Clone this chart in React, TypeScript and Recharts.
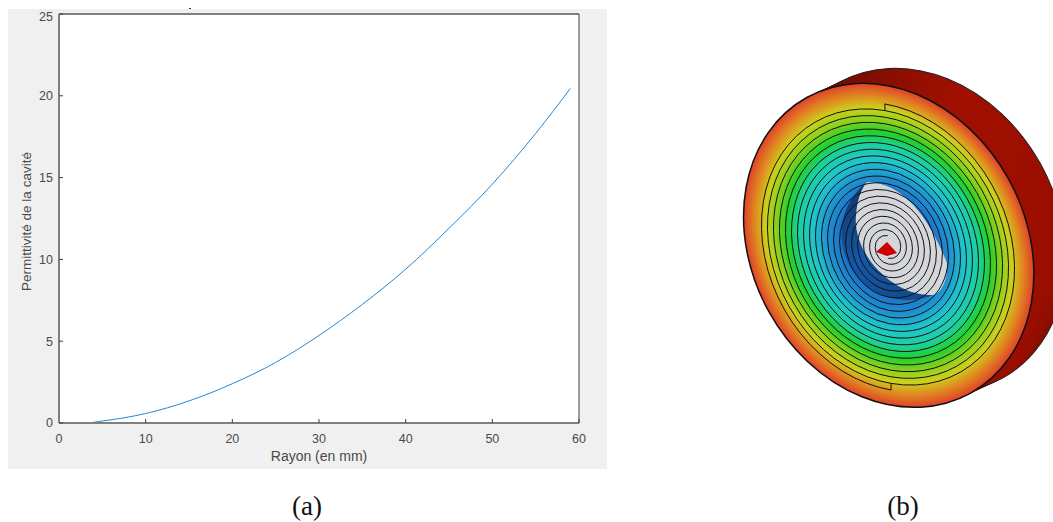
import React from 'react';
import { LineChart, Line, XAxis, YAxis, CartesianGrid, Label } from 'recharts';

const radius = [0, 3, 5, 10, 15, 20, 25, 30, 35, 40, 45, 50, 55, 59];
const permittivity = [0, 0, 0.12, 0.58, 1.35, 2.4, 3.7, 5.35, 7.25, 9.4, 11.9, 14.6, 17.7, 20.45];
const xTicks = [0, 10, 20, 30, 40, 50, 60];
const yTicks = [0, 5, 10, 15, 20, 25];

const chartData = radius.map((r, i) => ({ r, eps: permittivity[i] }));

// disk illustration (b)
const faceStops: [number, string][] = [
  [0, '#1a5cb0'],
  [30, '#1b6cc4'],
  [42, '#1f8fd0'],
  [52, '#1fc4cc'],
  [62, '#1cd0a0'],
  [70, '#22d02c'],
  [78, '#90d01c'],
  [85, '#ccd01c'],
  [92, '#e08a20'],
  [100, '#e0402a'],
];
const spiralRadii = [151, 144, 137, 130, 123, 116, 109, 102, 95, 88, 81, 74, 67, 60, 53, 46, 39, 32, 25, 18, 12];
const bodyOffsets = [0, 2, 4, 6, 8, 10, 12, 14, 16, 18, 20, 22, 24, 26, 28, 30, 32];

function spiralPath() {
  let d = `M0 ${-spiralRadii[0]}`;
  spiralRadii.slice(1).forEach((r, i) => {
    const prev = spiralRadii[i];
    const arc = (prev + r) / 2;
    const sign = i % 2 === 0 ? 1 : -1;
    d += ` A${arc} ${arc} 0 0 1 0 ${sign * r}`;
  });
  return d;
}

function Disk() {
  const spiral = spiralPath();
  return (
    <svg width={1053} height={522} style={{ position: 'absolute', left: 0, top: 0 }}>
      <defs>
        <radialGradient id="faceFill">
          {faceStops.map(([o, c]) => (
            <stop key={o} offset={`${o}%`} stopColor={c} />
          ))}
        </radialGradient>
        <linearGradient id="sideFill" gradientUnits="userSpaceOnUse" x1="800" y1="70" x2="1050" y2="380">
          <stop offset="0%" stopColor="#5e0c00" />
          <stop offset="45%" stopColor="#a01000" />
          <stop offset="85%" stopColor="#9a0e00" />
          <stop offset="100%" stopColor="#5e0c00" />
        </linearGradient>
        <linearGradient id="holeFill" gradientUnits="userSpaceOnUse" x1="850" y1="190" x2="900" y2="305">
          <stop offset="0%" stopColor="#10396f" />
          <stop offset="55%" stopColor="#1558a8" />
          <stop offset="100%" stopColor="#134a8c" />
        </linearGradient>
      </defs>
      {bodyOffsets.map((o) => (
        <ellipse
          key={o}
          cx={888.7 + o}
          cy={245.3 - o * 0.47}
          rx={137}
          ry={169}
          transform={`rotate(-29 ${888.7 + o} ${245.3 - o * 0.47})`}
          fill="url(#sideFill)"
          stroke={o === 32 ? '#222' : 'none'}
          strokeWidth={1}
        />
      ))}
      <ellipse
        cx={888.7}
        cy={245.3}
        rx={137}
        ry={169}
        transform="rotate(-29 888.7 245.3)"
        fill="url(#faceFill)"
        stroke="#111"
        strokeWidth={1.5}
      />
      <path d="M867 182 A66 66 0 0 0 933 295 Z" fill="url(#holeFill)" />
      <path
        d="M867 182 C905 183 930 220 947 263 C948 280 942 292 933 295 C895 297 852 255 856 215 C857 200 862 187 867 182 Z"
        fill="#d4d6da"
      />
      <g transform="translate(888 247) rotate(-29) scale(0.81 1) rotate(33)" fill="none" stroke="#111" strokeWidth={1}>
        <path d={spiral} vectorEffect="non-scaling-stroke" />
        <path d={spiral} vectorEffect="non-scaling-stroke" transform="rotate(180)" />
        <path d={`M0 ${-spiralRadii[0]} V${-spiralRadii[1]}`} vectorEffect="non-scaling-stroke" />
        <path d={`M0 ${spiralRadii[0]} V${spiralRadii[1]}`} vectorEffect="non-scaling-stroke" />
      </g>
      <path d="M876 252 L887 242 L897 253 L887 256 Z" fill="#cc0000" />
      <rect x={189} y={8} width={2} height={1} fill="#333" />
      <text x={307} y={515} textAnchor="middle" fontFamily="Liberation Serif" fontSize={27} fill="#111">
        (a)
      </text>
      <text x={903} y={515} textAnchor="middle" fontFamily="Liberation Serif" fontSize={27} fill="#111">
        (b)
      </text>
    </svg>
  );
}

const tickStyle = { fontSize: 12.5, fill: '#4a4a4a', fontFamily: 'Liberation Sans' };

export default function App() {
  return (
    <div style={{ position: 'absolute', left: 0, top: 0, width: 1053, height: 522, overflow: 'hidden', background: '#fff' }}>
      <div style={{ position: 'absolute', left: 8, top: 9, width: 599, height: 460, background: '#f0f0f0' }}>
        <LineChart
          width={599}
          height={460}
          data={chartData}
          margin={{ top: 4, right: 27, bottom: 45, left: 50 }}
        >
          <CartesianGrid horizontal={false} vertical={false} fill="#ffffff" />
          <XAxis
            xAxisId="bottom"
            dataKey="r"
            type="number"
            domain={[0, 60]}
            ticks={xTicks}
            height={1}
            tickSize={-4}
            tickMargin={15}
            tick={tickStyle}
            stroke="#808080"
            tickLine={{ stroke: '#404040' }}
            axisLine={{ stroke: '#808080', strokeWidth: 2 }}
          >
            <Label value="Rayon (en mm)" position="bottom" offset={27} style={{ ...tickStyle, fontSize: 14 }} />
          </XAxis>
          <XAxis
            xAxisId="top"
            orientation="top"
            dataKey="r"
            type="number"
            domain={[0, 60]}
            ticks={xTicks}
            height={1}
            tickSize={-4}
            tick={false}
            tickLine={{ stroke: '#404040' }}
            axisLine={{ stroke: '#808080', strokeWidth: 2 }}
          />
          <YAxis
            yAxisId="left"
            type="number"
            domain={[0, 25]}
            ticks={yTicks}
            width={1}
            tickSize={-4}
            tickMargin={10}
            tick={tickStyle}
            tickLine={{ stroke: '#404040' }}
            axisLine={{ stroke: '#808080', strokeWidth: 2 }}
          >
            <Label
              value="Permittivité de la cavité"
              angle={-90}
              position="left"
              offset={32}
              dy={3}
              style={{ ...tickStyle, fontSize: 13.5, textAnchor: 'middle' }}
            />
          </YAxis>
          <YAxis
            yAxisId="right"
            orientation="right"
            type="number"
            domain={[0, 25]}
            ticks={yTicks}
            width={1}
            tickSize={-4}
            tick={false}
            tickLine={{ stroke: '#404040' }}
            axisLine={{ stroke: '#404040', strokeWidth: 1 }}
          />
          <Line
            xAxisId="bottom"
            yAxisId="left"
            type="monotone"
            dataKey="eps"
            stroke="#2a86cc"
            strokeWidth={1}
            dot={false}
            isAnimationActive={false}
          />
        </LineChart>
      </div>
      <Disk />
    </div>
  );
}
